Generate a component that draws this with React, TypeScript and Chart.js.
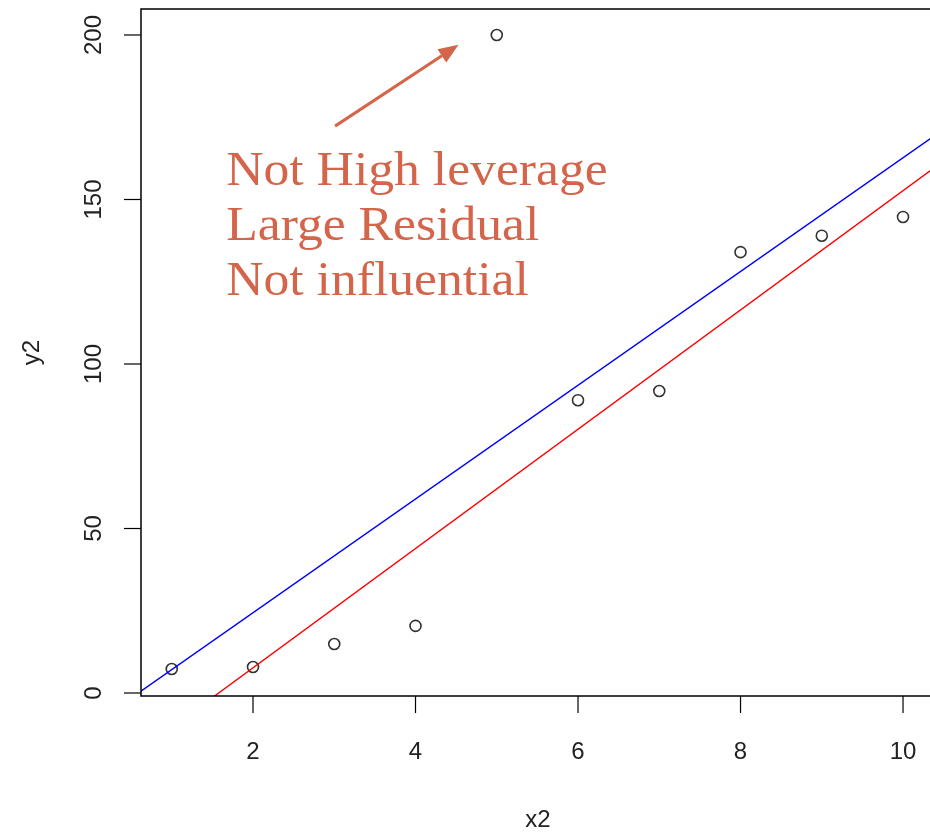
import React, { useEffect, useRef } from "react";
import { Chart, registerables } from "chart.js";

Chart.register(...registerables);

const xValues = [1, 2, 3, 4, 5, 6, 7, 8, 9, 10];
const yValues = [7.3, 7.9, 14.9, 20.4, 200, 89, 91.8, 134, 139, 144.7];
const outlierIndex = 4;
const xTicks = [2, 4, 6, 8, 10];
const yTicks = [0, 50, 100, 150, 200];
const annotationLines = ["Not High leverage", "Large Residual", "Not influential"];
const arrowFrom = { x: 3.01, y: 172.3 };
const arrowTo = { x: 4.53, y: 197 };
const textAnchor = { x: 1.67, y: 154.5 };

function fit(xs: number[], ys: number[]) {
  const n = xs.length;
  const mx = xs.reduce((a, b) => a + b, 0) / n;
  const my = ys.reduce((a, b) => a + b, 0) / n;
  let sxy = 0, sxx = 0;
  for (let i = 0; i < n; i++) {
    sxy += (xs[i] - mx) * (ys[i] - my);
    sxx += (xs[i] - mx) ** 2;
  }
  const b = sxy / sxx;
  return { a: my - b * mx, b };
}

export default function App() {
  const ref = useRef<HTMLCanvasElement | null>(null);
  useEffect(() => {
    document.body.style.margin = "0";
    const all = fit(xValues, yValues);
    const xs2 = xValues.filter((_, i) => i !== outlierIndex);
    const ys2 = yValues.filter((_, i) => i !== outlierIndex);
    const sub = fit(xs2, ys2);
    const lineX = [0, 11];
    const color = "#D4654A";
    const axisFont = "24px 'Liberation Sans', Arial, sans-serif";

    const overlay = {
      id: "overlay",
      afterDraw(chart: any) {
        const { ctx, chartArea, scales } = chart;
        const xs = scales.x, ys = scales.y;
        ctx.save();
        ctx.strokeStyle = "#000";
        ctx.lineWidth = 1.5;
        ctx.beginPath();
        ctx.moveTo(chartArea.right + 5, chartArea.top);
        ctx.lineTo(chartArea.left, chartArea.top);
        ctx.lineTo(chartArea.left, chartArea.bottom);
        ctx.lineTo(chartArea.right + 5, chartArea.bottom);
        ctx.stroke();
        ctx.lineWidth = 1.2;
        ctx.fillStyle = "#222";
        ctx.font = axisFont;
        ctx.textAlign = "center";
        ctx.textBaseline = "middle";
        for (const t of yTicks) {
          const py = ys.getPixelForValue(t);
          ctx.beginPath();
          ctx.moveTo(chartArea.left, py);
          ctx.lineTo(chartArea.left - 17, py);
          ctx.stroke();
          ctx.save();
          ctx.translate(94, py);
          ctx.rotate(-Math.PI / 2);
          ctx.fillText(String(t), 0, 0);
          ctx.restore();
        }
        for (const t of xTicks) {
          const px = xs.getPixelForValue(t);
          ctx.beginPath();
          ctx.moveTo(px, chartArea.bottom);
          ctx.lineTo(px, chartArea.bottom + 17);
          ctx.stroke();
          ctx.fillText(String(t), px, 752);
        }
        ctx.save();
        ctx.translate(32, (chartArea.top + chartArea.bottom) / 2);
        ctx.rotate(-Math.PI / 2);
        ctx.fillText("y2", 0, 0);
        ctx.restore();
        ctx.fillText("x2", xs.getPixelForValue(6) - 40, 820);
        // arrow
        const x1 = xs.getPixelForValue(arrowFrom.x), y1 = ys.getPixelForValue(arrowFrom.y);
        const x2 = xs.getPixelForValue(arrowTo.x), y2 = ys.getPixelForValue(arrowTo.y);
        const ang = Math.atan2(y2 - y1, x2 - x1);
        const hl = 20, hw = 8;
        const bx = x2 - hl * Math.cos(ang), by = y2 - hl * Math.sin(ang);
        ctx.strokeStyle = color;
        ctx.fillStyle = color;
        ctx.lineWidth = 3;
        ctx.beginPath();
        ctx.moveTo(x1, y1);
        ctx.lineTo(bx, by);
        ctx.stroke();
        ctx.beginPath();
        ctx.moveTo(x2, y2);
        ctx.lineTo(bx + hw * Math.sin(ang), by - hw * Math.cos(ang));
        ctx.lineTo(bx - hw * Math.sin(ang), by + hw * Math.cos(ang));
        ctx.closePath();
        ctx.fill();
        // annotation text
        ctx.font = "48px 'Liberation Serif', 'DejaVu Serif', serif";
        ctx.textAlign = "left";
        ctx.textBaseline = "alphabetic";
        const tx = xs.getPixelForValue(textAnchor.x);
        const ty = ys.getPixelForValue(textAnchor.y);
        annotationLines.forEach((s, i) => {
          ctx.save();
          ctx.translate(tx, ty + i * 55);
          ctx.scale(1.076, 1);
          ctx.fillText(s, 0, 0);
          ctx.restore();
        });
        ctx.restore();
      },
    };

    const chart = new Chart(ref.current!, {
      type: "scatter",
      data: {
        datasets: [
          {
            type: "line",
            data: lineX.map((x) => ({ x, y: all.a + all.b * x })),
            borderColor: "#0000FF",
            borderWidth: 1.4,
            pointRadius: 0,
            fill: false,
          },
          {
            type: "line",
            data: lineX.map((x) => ({ x, y: sub.a + sub.b * x })),
            borderColor: "#FF0000",
            borderWidth: 1.4,
            pointRadius: 0,
            fill: false,
          },
          {
            data: xValues.map((x, i) => ({ x, y: yValues[i] })),
            pointRadius: 5.5,
            pointBorderWidth: 1.6,
            pointBorderColor: "#333",
            pointBackgroundColor: "rgba(0,0,0,0)",
          },
        ],
      },
      options: {
        animation: false,
        responsive: false,
        layout: { autoPadding: false, padding: { top: 9, right: 0, left: 0, bottom: 0 } },
        plugins: { legend: { display: false }, tooltip: { enabled: false } },
        scales: {
          x: {
            type: "linear",
            min: 0.6215,
            max: 10.332,
            afterFit: (s: any) => { s.height = 136; s.paddingLeft = 0; s.paddingRight = 0; },
            afterBuildTicks: (s: any) => { s.ticks = xTicks.map((v) => ({ value: v })); },
            grid: { display: false },
            border: { display: false },
            ticks: { display: false },
          },
          y: {
            type: "linear",
            min: -0.91,
            max: 207.9,
            afterFit: (s: any) => { s.width = 141; s.paddingTop = 0; s.paddingBottom = 0; },
            afterBuildTicks: (s: any) => { s.ticks = yTicks.map((v) => ({ value: v })); },
            grid: { display: false },
            border: { display: false },
            ticks: { display: false },
          },
        },
      },
      plugins: [overlay],
    });
    return () => chart.destroy();
  }, []);
  return (
    <div style={{ width: 930, height: 832, background: "#fff" }}>
      <canvas ref={ref} width={930} height={832} style={{ display: "block" }} />
    </div>
  );
}
